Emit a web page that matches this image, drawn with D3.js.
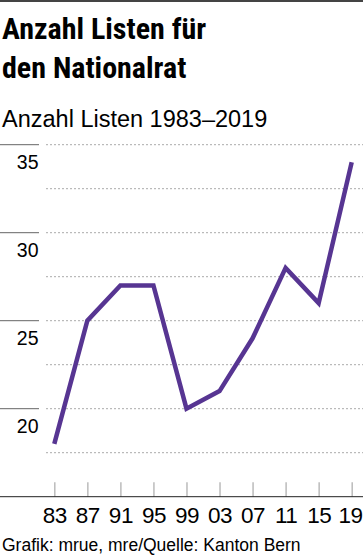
<!DOCTYPE html>
<html>
<head>
<meta charset="utf-8">
<script src="https://cdn.jsdelivr.net/npm/d3@7"></script>
<style>
  html, body { margin: 0; padding: 0; background: #fff; }
  svg { display: block; font-family: "Liberation Sans", Arial, sans-serif; }
  .title { font-family: "Liberation Sans Narrow", "Roboto Condensed", "Liberation Sans", sans-serif; font-weight: bold; font-size: 30px; }
</style>
</head>
<body>
<svg id="chart" width="363" height="558"></svg>
<script>
const years = ['83', '87', '91', '95', '99', '03', '07', '11', '15', '19'];
const lists = [18, 25, 27, 27, 20, 21, 24, 28, 26, 34];
const yLabels = [20, 25, 30, 35];
const gridValues = [17.5, 20, 22.5, 25, 27.5, 30, 32.5, 35];

const width = 363, height = 558;
const svg = d3.select('#chart');

const x = d3.scalePoint().domain(years).range([54.3, 351.7]);
const y = d3.scaleLinear().domain([15, 35]).range([496.7, 144.7]);

// top rule
svg.append('rect').attr('x', 0).attr('y', 0).attr('width', width).attr('height', 2).attr('fill', '#444');

// title
svg.append('text').attr('class', 'title').attr('x', 2).attr('y', 39).text('Anzahl Listen für');
svg.append('text').attr('class', 'title').attr('x', 2).attr('y', 78).text('den Nationalrat');

svg.append('text').attr('x', 2).attr('y', 127)
    .style('font-size', '23.5px')
    .text('Anzahl Listen 1983–2019');

// dotted grid
svg.append('g').selectAll('line')
    .data(gridValues)
    .join('line')
    .attr('x1', 46.5).attr('x2', width)
    .attr('y1', d => y(d)).attr('y2', d => y(d))
    .attr('stroke', '#555')
    .attr('stroke-width', 1)
    .attr('stroke-dasharray', '1,3');

// y labels with short solid rules
const yl = svg.append('g').selectAll('g').data(yLabels).join('g')
    .attr('transform', d => `translate(0,${y(d)})`);
yl.append('line').attr('x1', 0).attr('x2', 39).attr('stroke', '#666').attr('stroke-width', 1);
yl.append('text').attr('x', 38.5).attr('y', 24).attr('text-anchor', 'end')
    .style('font-size', '19.5px').text(d => d);

// x axis
const xAxis = svg.append('g')
    .attr('transform', `translate(0,${y(15)})`)
    .call(d3.axisBottom(x).tickSize(-14.5).tickPadding(0).tickSizeOuter(0));
xAxis.select('.domain').remove();
xAxis.selectAll('.tick line').attr('stroke', '#bbb').attr('stroke-width', 1.5);
xAxis.selectAll('.tick text')
    .attr('y', 26.5).attr('dy', null)
    .attr('fill', '#000')
    .style('font-size', '22.5px')
    .style('letter-spacing', '-0.5px')
    .style('font-family', '"Liberation Sans", Arial, sans-serif');
// keep the last label inside the frame
xAxis.selectAll('.tick').each(function(d) {
    const t = d3.select(this).select('text');
    const box = t.node().getBBox();
    const right = x(d) + box.x + box.width;
    if (right > width - 1) t.attr('x', width - 1 - right);
});
svg.append('line')
    .attr('x1', 0).attr('x2', width)
    .attr('y1', y(15)).attr('y2', y(15))
    .attr('stroke', '#222').attr('stroke-width', 1);

// data line
const line = d3.line()
    .x((d, i) => x(years[i]))
    .y(d => y(d));
svg.append('path')
    .datum(lists)
    .attr('d', line)
    .attr('fill', 'none')
    .attr('stroke', '#573592')
    .attr('stroke-width', 4.5)
    .attr('stroke-linejoin', 'miter');

// footer
svg.append('text').attr('x', 2).attr('y', 551)
    .style('font-size', '17.5px')
    .text('Grafik: mrue, mre/Quelle: Kanton Bern');
</script>
</body>
</html>
